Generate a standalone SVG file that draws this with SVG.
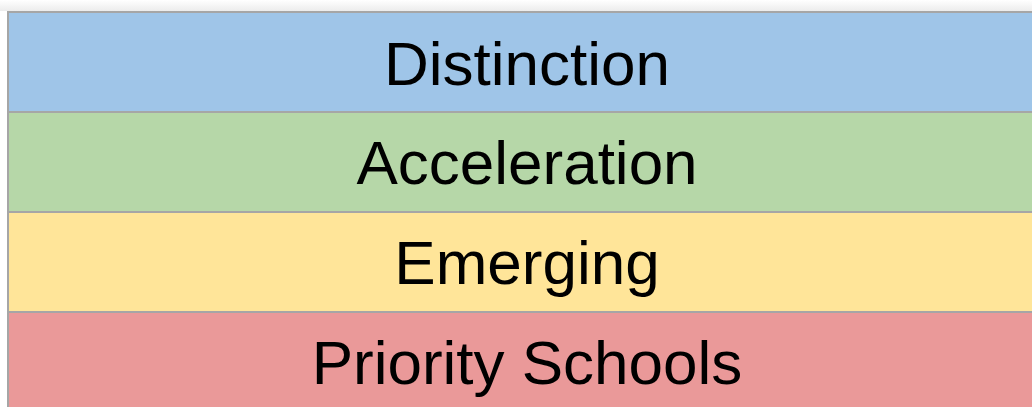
<svg xmlns="http://www.w3.org/2000/svg" width="1032" height="407" viewBox="0 0 1032 407">
<defs>
<linearGradient id="topband" x1="0" y1="0" x2="0" y2="1">
<stop offset="0" stop-color="#ffffff"/>
<stop offset="1" stop-color="#ececec"/>
</linearGradient>
</defs>
<style>
.band{stroke:#a6a6a6;stroke-width:2}
.lbl{font-family:"Liberation Sans",Arial,sans-serif;font-size:62px;fill:#000;text-anchor:middle}
</style>
<rect x="0" y="0" width="1032" height="407" fill="#ffffff"/>
<rect x="0" y="0" width="1032" height="11" fill="url(#topband)"/>
<g id="distinction">
<rect class="band" x="8" y="12" width="1030" height="100" fill="#9fc5e8"/>
<text class="lbl" x="527" y="85">Distinction</text>
</g>
<g id="acceleration">
<rect class="band" x="8" y="112" width="1030" height="100" fill="#b6d7a8"/>
<text class="lbl" x="527" y="184">Acceleration</text>
</g>
<g id="emerging">
<rect class="band" x="8" y="212" width="1030" height="100" fill="#ffe599"/>
<text class="lbl" x="527" y="284">Emerging</text>
</g>
<g id="priority">
<rect class="band" x="8" y="312" width="1030" height="100" fill="#ea9999"/>
<text class="lbl" x="527" y="384">Priority Schools</text>
</g>
<g id="connectors"/>
</svg>
